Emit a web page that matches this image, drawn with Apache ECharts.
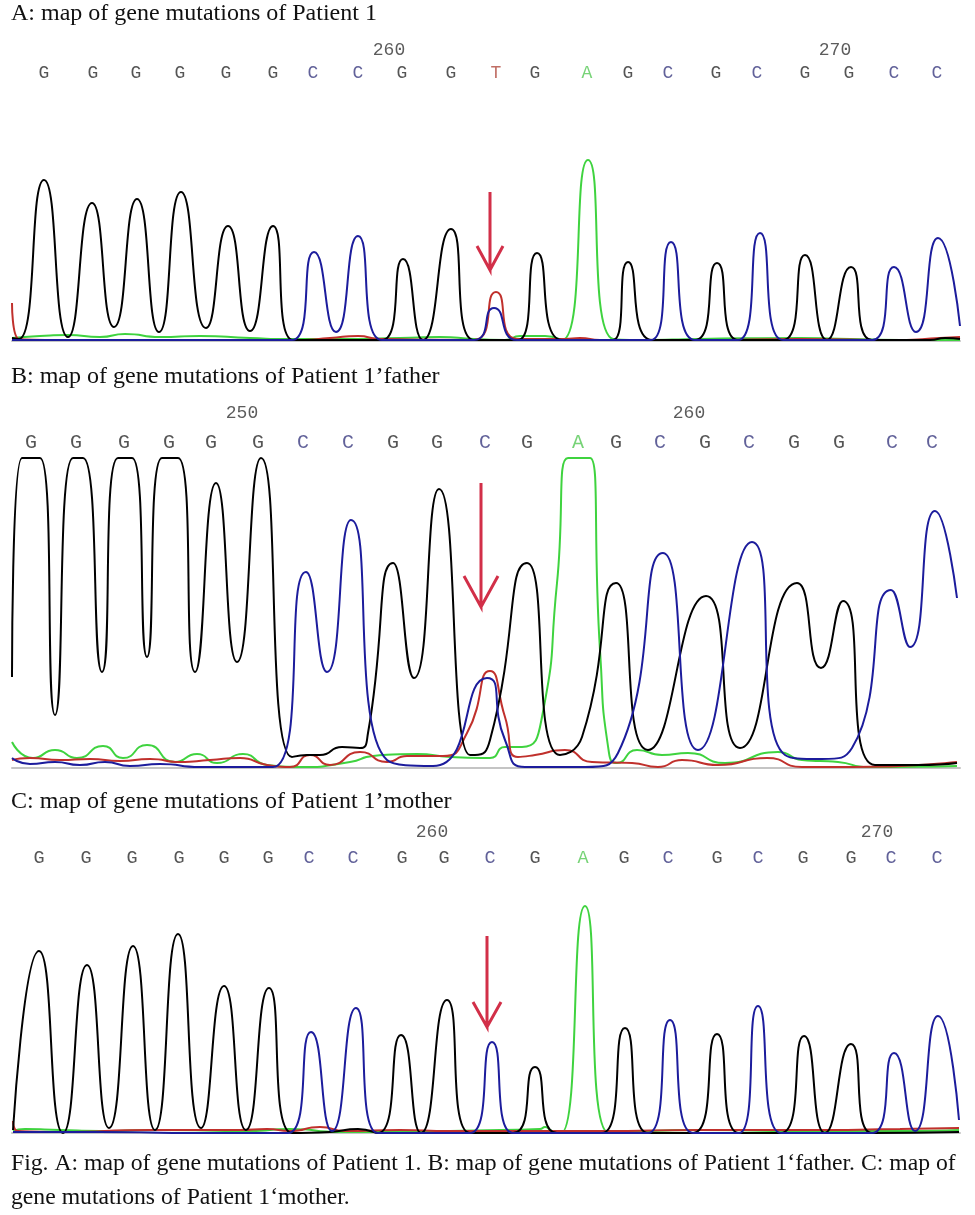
<!DOCTYPE html>
<html>
<head>
<meta charset="utf-8">
<script src="https://cdn.jsdelivr.net/npm/echarts@6/dist/echarts.min.js"></script>
<style>
html,body{margin:0;padding:0;background:#fff}
#main{width:975px;height:1215px}
</style>
</head>
<body>
<div id="main"></div>
<script>
// base calls and scan positions (scan units) for each panel
var seqA = ['G','G','G','G','G','G','C','C','G','G','T','G','A','G','C','G','C','G','G','C','C'];
var posA = [44,93,136,180,226,273,313,358,402,451,496,535,587,628,668,716,757,805,849,894,937];
var numA = [[389,'260'],[835,'270']];

var seqB = ['G','G','G','G','G','G','C','C','G','G','C','G','A','G','C','G','C','G','G','C','C'];
var posB = [31,76,124,169,211,258,303,348,393,437,485,527,578,616,660,705,749,794,839,892,932];
var numB = [[242,'250'],[689,'260']];

var seqC = ['G','G','G','G','G','G','C','C','G','G','C','G','A','G','C','G','C','G','G','C','C'];
var posC = [39,86,132,179,224,268,309,353,402,444,490,535,583,624,668,717,758,803,851,891,937];
var numC = [[432,'260'],[877,'270']];

// traces: [scan, signal]  (G black, C blue, A green, T red)
var aG = [[12,3],[19,2],[44,161],[68,4],[92,138],[114,14],[137,142],[159,9],[181,149],[206,13],[228,115],[250,10],[273,115],[293,1],[330,1],[382,1],[403,82],[423,1],[451,112],[474,1],[500,1],[518,1],[537,88],[562,1],[600,1],[613,1],[628,79],[652,1],[695,1],[717,78],[738,1],[783,1],[805,86],[827,1],[851,74],[872,1],[930,1],[945,3],[960,2]];
var aC = [[12,1],[100,1],[200,1],[292,1],[314,89],[336,9],[358,105],[382,1],[420,1],[474,1],[494,33],[517,1],[560,1],[620,1],[651,1],[671,99],[695,1],[738,1],[760,108],[783,1],[872,1],[894,74],[916,9],[938,103],[960,15]];
var aA = [[12,3],[40,5],[68,6],[100,4],[125,7],[160,4],[200,5],[250,3],[290,2],[330,2],[400,3],[440,4],[474,2],[505,1],[520,5],[545,5],[562,1],[588,181],[613,2],[640,1],[700,2],[800,3],[850,2],[900,1],[960,1]];
var aT = [[12,38],[19,2],[60,1],[200,1],[300,1],[330,3],[358,5],[380,2],[474,1],[496,49],[517,2],[565,2],[580,3],[600,1],[700,1],[800,2],[900,1],[940,3],[960,4]];

var bG = [[12,91],[22,310],[40,310],[55,53],[73,310],[83,310],[102,96],[118,310],[132,310],[147,111],[162,310],[178,310],[195,96],[216,285],[237,106],[261,310],[292,11],[307,13],[320,13],[342,21],[360,20],[368,35],[393,205],[414,90],[439,279],[470,13],[475,13],[490,28],[527,205],[560,13],[582,31],[616,185],[648,18],[706,172],[740,20],[797,185],[821,100],[843,167],[875,3],[918,3],[957,5]];
var bC = [[12,10],[30,4],[55,6],[80,3],[105,6],[130,2],[160,4],[200,1],[273,1],[306,196],[327,96],[351,248],[387,8],[433,2],[487,90],[505,28],[525,1],[585,1],[618,15],[663,215],[698,18],[752,226],[785,13],[822,9],[852,20],[891,178],[910,121],[935,257],[957,170]];
var bA = [[12,26],[33,10],[55,18],[77,10],[103,22],[123,10],[147,23],[175,6],[197,14],[217,5],[243,14],[267,3],[300,1],[350,6],[373,12],[417,14],[450,11],[490,10],[505,21],[522,21],[542,51],[557,185],[568,310],[590,310],[600,118],[609,15],[617,5],[637,18],[662,13],[688,15],[725,5],[778,16],[802,8],[838,6],[868,1],[957,2]];
var bT = [[12,8],[30,10],[60,8],[90,9],[120,7],[150,9],[180,6],[210,8],[240,10],[267,3],[290,1],[310,13],[330,3],[360,16],[387,6],[407,12],[443,12],[467,35],[490,97],[505,51],[518,11],[535,13],[565,18],[592,6],[632,5],[658,1],[682,8],[718,3],[767,10],[802,1],[852,1],[957,6]];

var cG = [[13,3],[39,182],[63,0],[87,168],[109,5],[133,187],[155,3],[178,199],[201,5],[224,147],[246,3],[269,145],[292,0],[330,1],[358,4],[378,0],[401,98],[421,0],[447,133],[470,0],[513,0],[535,66],[557,0],[602,0],[625,105],[648,0],[693,0],[717,99],[739,0],[781,0],[804,97],[825,0],[851,89],[872,0],[959,1]];
var cC = [[13,1],[100,1],[200,0],[288,0],[311,101],[332,2],[356,125],[378,0],[420,0],[470,0],[492,91],[513,0],[560,0],[648,0],[670,113],[693,0],[739,0],[758,127],[781,0],[872,0],[894,80],[915,2],[938,117],[959,13]];
var cA = [[13,2],[25,4],[60,3],[100,2],[160,3],[250,2],[290,4],[340,1],[400,1],[450,2],[500,3],[540,4],[545,6],[552,2],[561,0],[585,227],[609,0],[650,2],[700,3],[800,2],[900,2],[959,3]];
var cT = [[13,12],[18,2],[60,1],[150,3],[240,3],[267,4],[290,2],[320,6],[345,2],[400,3],[450,2],[500,2],[600,2],[700,3],[800,3],[900,4],[959,5]];

// red arrows: [shaft x, shaft top, tip, wing spread, wing level]
var arrowA = [490,149,71,13,95];
var arrowB = [481,285,161,17,192];
var arrowC = [487,197,106,14,131];

var titles = ['A: map of gene mutations of Patient 1',
              'B: map of gene mutations of Patient 1\u2019father',
              'C: map of gene mutations of Patient 1\u2019mother'];
var caption = 'Fig. A: map of gene mutations of Patient 1. B: map of gene mutations of Patient 1\u2018father. C: map of\ngene mutations of Patient 1\u2018mother.';

var baseColor = { G: '#2b2b2b', C: '#3a3a80', A: '#55c855', T: '#b04a3f' };
var traceColor = { G: '#000000', C: '#1c1c9c', A: '#3fd33f', T: '#c0302c' };

var chart = echarts.init(document.getElementById('main'));

var panels = [
    { seq: seqA, pos: posA, nums: numA, tr: { A: aA, T: aT, G: aG, C: aC }, arrow: arrowA,
      head: { top: 27, height: 69 }, plot: { top: 141, height: 200 }, ymax: 200, letterSize: 18 },
    { seq: seqB, pos: posB, nums: numB, tr: { A: bA, T: bT, G: bG, C: bC }, arrow: arrowB,
      head: { top: 383, height: 90 }, plot: { top: 458, height: 310 }, ymax: 310, letterSize: 20 },
    { seq: seqC, pos: posC, nums: numC, tr: { A: cA, T: cT, G: cG, C: cC }, arrow: arrowC,
      head: { top: 807, height: 77 }, plot: { top: 903, height: 230 }, ymax: 230, letterSize: 18.5 }
];

var grid = [], xAxis = [], yAxis = [], series = [];

panels.forEach(function (p, i) {
    var hi = grid.length;
    grid.push({ left: 12, right: 15, top: p.head.top, height: p.head.height });
    xAxis.push({ gridIndex: hi, type: 'value', min: 12, max: 960, show: false });
    yAxis.push({ gridIndex: hi, type: 'value', min: 0, max: 3, show: false });

    var pi = grid.length;
    grid.push({ left: 12, right: 15, top: p.plot.top, height: p.plot.height });
    xAxis.push({
        gridIndex: pi, type: 'value', min: 12, max: 960,
        axisLine: { show: true, lineStyle: { color: '#c4c4c4', width: 2 } },
        axisTick: { show: false }, axisLabel: { show: false }, splitLine: { show: false }
    });
    yAxis.push({ gridIndex: pi, type: 'value', min: 0, max: p.ymax, show: false });

    // base letters
    series.push({
        type: 'scatter', xAxisIndex: hi, yAxisIndex: hi, symbolSize: 0, silent: true,
        data: p.seq.map(function (b, k) {
            return { name: b, value: [p.pos[k], 1], label: { color: baseColor[b] } };
        }),
        label: {
            show: true, position: 'inside', formatter: '{b}',
            fontFamily: 'Liberation Mono', fontSize: p.letterSize
        }
    });
    // position numbers
    series.push({
        type: 'scatter', xAxisIndex: hi, yAxisIndex: hi, symbolSize: 0, silent: true,
        data: p.nums.map(function (n) { return { name: n[1], value: [n[0], 2] }; }),
        label: {
            show: true, position: 'inside', formatter: '{b}', color: '#333',
            fontFamily: 'Liberation Mono', fontSize: 18
        }
    });

    ['A', 'T', 'G', 'C'].forEach(function (b) {
        series.push({
            type: 'line', xAxisIndex: pi, yAxisIndex: pi, data: p.tr[b],
            smooth: 0.6, symbol: 'none', clip: false, silent: true,
            lineStyle: { color: traceColor[b], width: 2 }
        });
    });

    var a = p.arrow;
    series.push({
        type: 'line', xAxisIndex: pi, yAxisIndex: pi, symbol: 'none', silent: true, clip: false,
        data: [[a[0], a[1]], [a[0], a[2]], [a[0] - a[3], a[4]], [a[0], a[2]], [a[0] + a[3], a[4]]],
        lineStyle: { color: '#d22f48', width: 3, join: 'miter' }
    });
});

var titleStyle = { fontFamily: 'Liberation Serif', fontSize: 24, fontWeight: 'normal', color: '#111' };

chart.setOption({
    backgroundColor: '#fff',
    animation: false,
    title: [
        { text: titles[0], left: 11, top: 2, padding: 0, textStyle: titleStyle },
        { text: titles[1], left: 11, top: 365, padding: 0, textStyle: titleStyle },
        { text: titles[2], left: 11, top: 790, padding: 0, textStyle: titleStyle },
        { text: caption, left: 11, top: 1147, padding: 0,
          textStyle: Object.assign({}, titleStyle, { fontSize: 23.7, lineHeight: 34 }) }
    ],
    grid: grid,
    xAxis: xAxis,
    yAxis: yAxis,
    series: series
});
</script>
</body>
</html>
